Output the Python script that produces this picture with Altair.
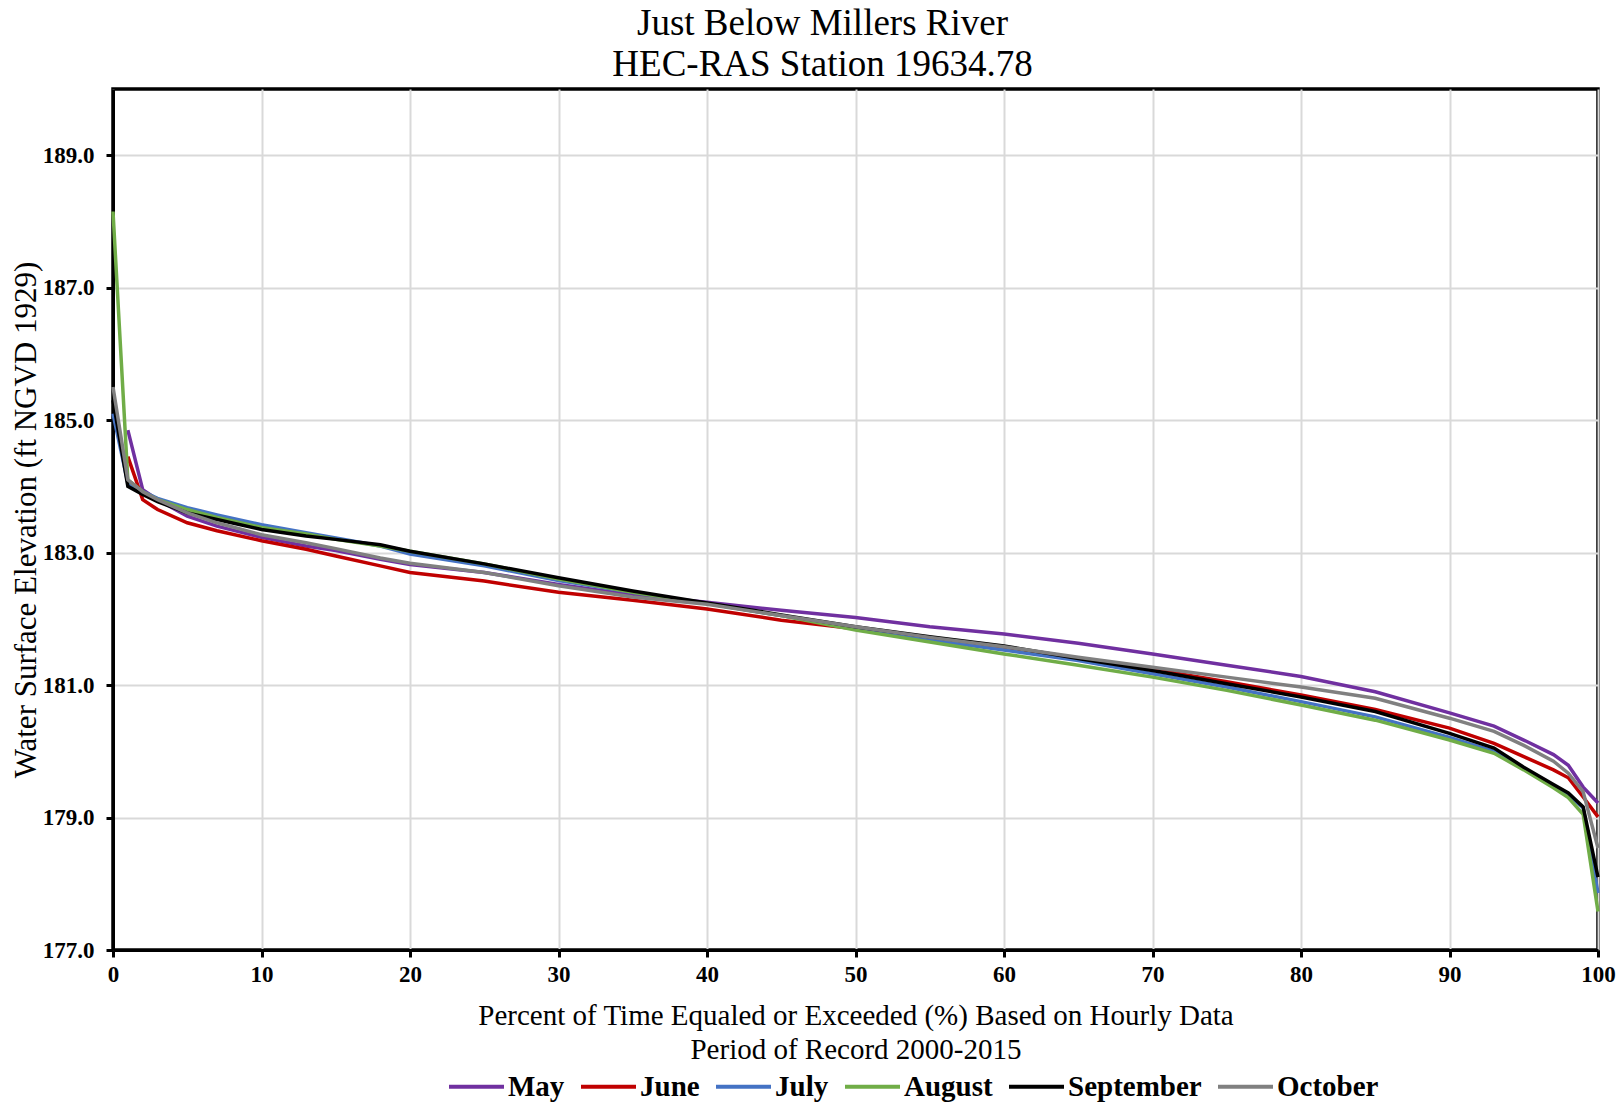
import altair as alt
import pandas as pd

pct = [0, 1, 2, 3, 5, 7, 10, 13, 15, 18, 20, 25, 30, 35, 40, 45, 50, 55, 60, 65,
       70, 75, 80, 85, 90, 93, 95, 97, 98, 99, 100]

may = [None, 184.85, 183.95, 183.8, 183.55, 183.4, 183.23, 183.1, 183.03, 182.9, 182.82,
       182.7, 182.52, 182.36, 182.25, 182.13, 182.02, 181.88, 181.77, 181.63, 181.47,
       181.3, 181.13, 180.9, 180.58, 180.38, 180.17, 179.95, 179.79, 179.46, 179.22]
june = [None, 184.45, 183.8, 183.65, 183.45, 183.33, 183.18, 183.05, 182.95, 182.8, 182.7,
        182.57, 182.4, 182.28, 182.15, 181.98, 181.85, 181.7, 181.57, 181.4, 181.24,
        181.05, 180.85, 180.63, 180.35, 180.12, 179.92, 179.72, 179.6, 179.31, 179.01]
july = [185.1, 184.05, 183.92, 183.82, 183.68, 183.57, 183.42, 183.3, 183.22, 183.1, 182.98,
        182.8, 182.58, 182.4, 182.23, 182.05, 181.86, 181.68, 181.53, 181.37, 181.17,
        180.97, 180.75, 180.52, 180.21, 180.0, 179.74, 179.48, 179.33, 179.15, 177.86]
august = [188.15, 184.1, 183.92, 183.8, 183.65, 183.53, 183.38, 183.28, 183.2, 183.1, 183.02,
          182.83, 182.6, 182.4, 182.23, 182.05, 181.83, 181.65, 181.47, 181.3, 181.12,
          180.92, 180.7, 180.47, 180.17, 179.97, 179.72, 179.45, 179.3, 179.05, 177.58]
september = [185.3, 184.0, 183.88, 183.77, 183.6, 183.5, 183.35, 183.25, 183.2, 183.12, 183.02,
             182.83, 182.62, 182.42, 182.24, 182.06, 181.88, 181.73, 181.59, 181.4, 181.22,
             181.02, 180.82, 180.6, 180.27, 180.05, 179.76, 179.5, 179.37, 179.16, 178.1]
october = [185.5, 184.1, 183.92, 183.8, 183.6, 183.45, 183.27, 183.15, 183.06, 182.92, 182.84,
           182.7, 182.5, 182.33, 182.22, 182.05, 181.88, 181.72, 181.58, 181.42, 181.27,
           181.12, 180.97, 180.8, 180.5, 180.3, 180.09, 179.85, 179.67, 179.39, 178.54]

months = ["May", "June", "July", "August", "September", "October"]
colors = ["#7030A0", "#C00000", "#4472C4", "#70AD47", "#000000", "#808080"]
series = [may, june, july, august, september, october]

y_ticks = [177, 179, 181, 183, 185, 187, 189]
x_ticks = [0, 10, 20, 30, 40, 50, 60, 70, 80, 90, 100]

rows = []
for m, vals in zip(months, series):
    for i, (p, v) in enumerate(zip(pct, vals)):
        if v is not None:
            rows.append({"pct": p, "elev": v, "month": m, "order": i})
df = pd.DataFrame(rows)

FONT = "Liberation Serif"

chart = alt.Chart(df).mark_line(strokeWidth=3.5).encode(
    x=alt.X("pct:Q",
            scale=alt.Scale(domain=[0, 100], nice=False),
            axis=alt.Axis(values=x_ticks, format="d", labelFlush=False,
                          title=["Percent of Time Equaled or Exceeded (%) Based on Hourly Data",
                                 "Period of Record 2000-2015"],
                          titleFont=FONT, titleFontSize=29, titleFontWeight="normal",
                          titleColor="black", titleLineHeight=34, titlePadding=15,
                          labelFont=FONT, labelFontSize=23, labelFontWeight="bold",
                          labelColor="black", labelPadding=6,
                          tickColor="black", tickSize=7, tickWidth=3,
                          domainColor="black", domainWidth=3,
                          grid=True, gridColor="#D9D9D9", gridWidth=2)),
    y=alt.Y("elev:Q",
            scale=alt.Scale(domain=[177, 190], nice=False, zero=False),
            axis=alt.Axis(values=y_ticks, format=".1f",
                          title="Water Surface Elevation (ft NGVD 1929)",
                          titleFont=FONT, titleFontSize=31, titleFontWeight="normal",
                          titleColor="black", titlePadding=0,
                          labelFont=FONT, labelFontSize=23, labelFontWeight="bold",
                          labelColor="black", labelPadding=12,
                          tickColor="black", tickSize=7, tickWidth=3,
                          domainColor="black", domainWidth=3,
                          grid=True, gridColor="#D9D9D9", gridWidth=2)),
    color=alt.Color("month:N",
                    scale=alt.Scale(domain=months, range=colors),
                    legend=alt.Legend(title=None, orient="none", direction="horizontal",
                                      legendX=334, legendY=968,
                                      symbolType="stroke", symbolSize=3025,
                                      symbolStrokeWidth=4,
                                      labelFont=FONT, labelFontSize=29,
                                      labelFontWeight="bold", labelColor="black",
                                      labelOffset=2, columnPadding=8)),
    order=alt.Order("order:Q"),
).properties(
    width=1485,
    height=861,
    title=alt.TitleParams(["Just Below Millers River", "HEC-RAS Station 19634.78"],
                          font=FONT, fontSize=37, fontWeight="normal", color="black",
                          anchor="middle", frame="group", dx=-33, offset=5,
                          lineHeight=41),
    autosize=alt.AutoSizeParams(type="none"),
    padding={"left": 105, "top": 81, "right": 18, "bottom": 153},
    background="white",
).configure_view(
    stroke="black", strokeWidth=3.5
)

chart.save("out.html", embed_options={"renderer": "svg", "actions": False})
